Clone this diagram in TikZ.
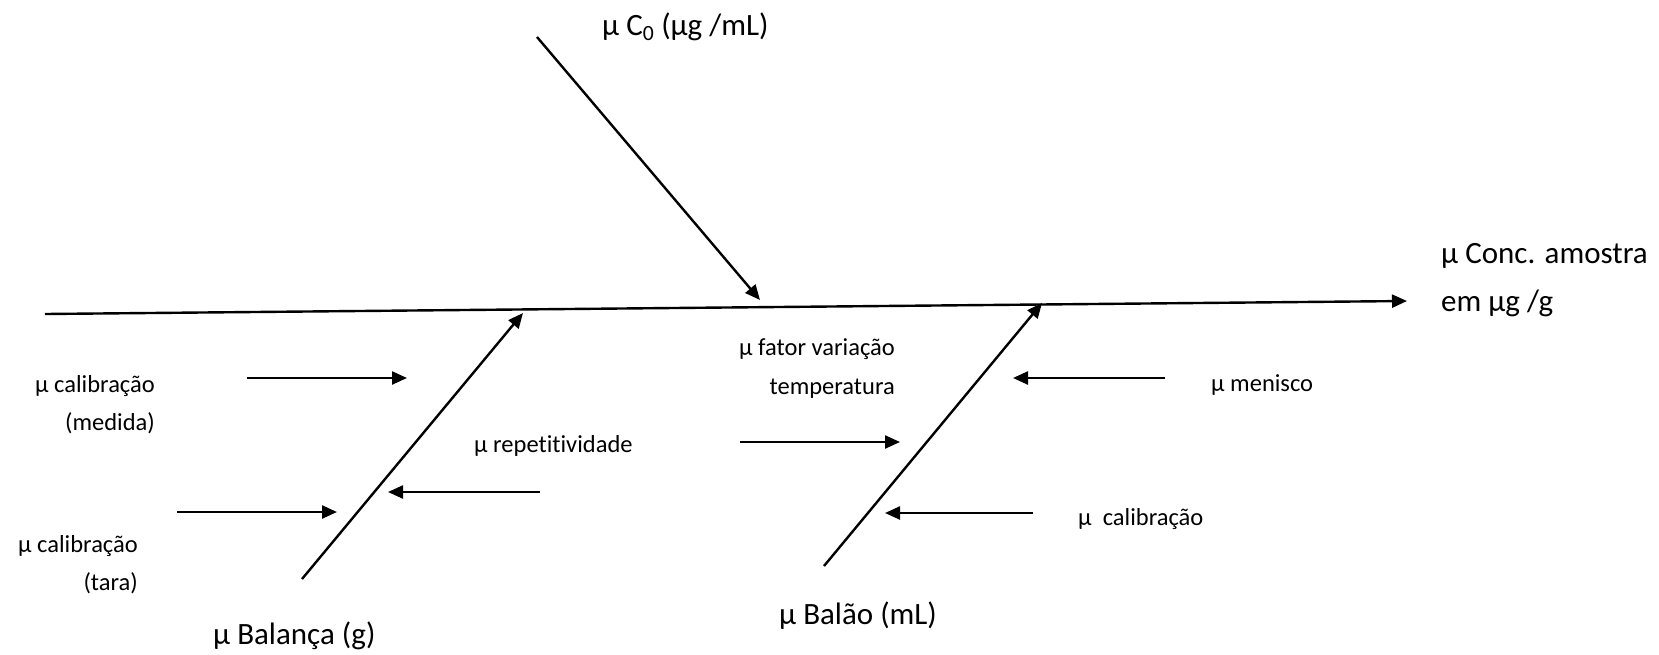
\documentclass[tikz,border=0pt]{standalone}
\usepackage{fontspec}
\setmainfont{Carlito}[Ligatures={NoCommon}]
\usetikzlibrary{arrows.meta}
\begin{document}
\begin{tikzpicture}[x=1pt,y=-1pt,
  big/.style={inner sep=0pt,font=\fontsize{31}{37}\selectfont},
  small/.style={inner sep=0pt,font=\fontsize{24.5}{29}\selectfont},
  conn/.style={line width=2.4pt,-{Triangle[length=15pt,width=13pt]}},
  ]
\useasboundingbox (0,0) rectangle (1659,654);
% coordinates
\coordinate (spineS) at (45,314);
\coordinate (spineE) at (1407,301);
\coordinate (topS) at (537,37);
\coordinate (topE) at (760,300);
\coordinate (balS) at (302,579);
\coordinate (balE) at (523,313);
\coordinate (baoS) at (824,566);
\coordinate (baoE) at (1042,303);
\coordinate (medS) at (247,378);
\coordinate (medE) at (407,378);
\coordinate (tarS) at (177,512);
\coordinate (tarE) at (337,512);
\coordinate (repS) at (540,492);
\coordinate (repE) at (388,492);
\coordinate (fatS) at (740,442);
\coordinate (fatE) at (900,442);
\coordinate (menS) at (1165,378);
\coordinate (menE) at (1013,378);
\coordinate (calS) at (1033,513);
\coordinate (calE) at (885,513);
% labels
\node[big,anchor=base west] (c0) at (602,35) {µ C\textsubscript{0} (µg /mL)};
\node[big,anchor=base west] (conc1) at (1441,263) {µ Conc. amostra};
\node[big,anchor=base west] (conc2) at (1441,311) {em µg /g};
\node[small,anchor=base east] (med1) at (155,392) {µ calibração};
\node[small,anchor=base east] (med2) at (155,430) {(medida)};
\node[small,anchor=base east] (tar1) at (138,552) {µ calibração};
\node[small,anchor=base east] (tar2) at (138,590) {(tara)};
\node[small,anchor=base west] (rep) at (474,452) {µ repetitividade};
\node[small,anchor=base east] (fat1) at (895,355) {µ fator variação};
\node[small,anchor=base east] (fat2) at (895,394) {temperatura};
\node[small,anchor=base west] (men) at (1211,391) {µ menisco};
\node[small,anchor=base west] (cal) at (1078,525) {µ\ \ calibração};
\node[big,anchor=base west] (bao) at (779,624) {µ Balão (mL)};
\node[big,anchor=base west] (bal) at (213,644) {µ Balança (g)};
% connectors
\draw[conn] (spineS) -- (spineE);
\draw[conn] (topS) -- (topE);
\draw[conn] (balS) -- (balE);
\draw[conn] (baoS) -- (baoE);
\draw[conn] (medS) -- (medE);
\draw[conn] (tarS) -- (tarE);
\draw[conn] (repS) -- (repE);
\draw[conn] (fatS) -- (fatE);
\draw[conn] (menS) -- (menE);
\draw[conn] (calS) -- (calE);
\end{tikzpicture}
\end{document}
